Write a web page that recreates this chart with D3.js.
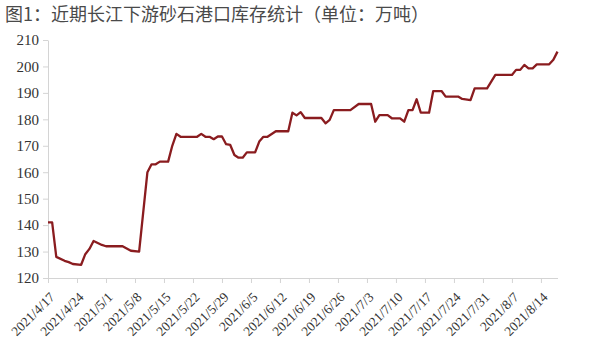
<!DOCTYPE html>
<html lang="zh">
<head>
<meta charset="UTF-8">
<title>长江下游砂石港口库存</title>
<script src="https://d3js.org/d3.v7.min.js"></script>
<style>
  body { margin: 0; background: #fff; }
  .title { font-family: "Noto Sans CJK SC", sans-serif; font-size: 18px; fill: #4a4a4a; }
  .axis text { font-family: "Liberation Serif", serif; fill: #333; }
  .axis path, .axis line { stroke: #d4d4d4; }
</style>
</head>
<body>
<div id="chart"></div>
<script>
// inventory (10k tonnes) at the corners of the line
var dates = ["2021/4/17","2021/4/18","2021/4/19","2021/4/21","2021/4/22","2021/4/23","2021/4/25",
  "2021/4/26","2021/4/27","2021/4/28","2021/4/30","2021/5/1","2021/5/5","2021/5/7","2021/5/9",
  "2021/5/11","2021/5/12","2021/5/13","2021/5/14","2021/5/16","2021/5/17","2021/5/18","2021/5/19",
  "2021/5/23","2021/5/24","2021/5/25","2021/5/26","2021/5/27","2021/5/28","2021/5/29","2021/5/30",
  "2021/5/31","2021/6/1","2021/6/2","2021/6/3","2021/6/4","2021/6/6","2021/6/7","2021/6/8",
  "2021/6/9","2021/6/11","2021/6/14","2021/6/15","2021/6/16","2021/6/17","2021/6/18","2021/6/22",
  "2021/6/23","2021/6/24","2021/6/25","2021/6/29","2021/7/1","2021/7/4","2021/7/5","2021/7/6",
  "2021/7/8","2021/7/9","2021/7/11","2021/7/12","2021/7/13","2021/7/14","2021/7/15","2021/7/16",
  "2021/7/18","2021/7/19","2021/7/21","2021/7/22","2021/7/25","2021/7/26","2021/7/28","2021/7/29",
  "2021/8/1","2021/8/3","2021/8/7","2021/8/8","2021/8/9","2021/8/10","2021/8/11","2021/8/12",
  "2021/8/13","2021/8/16","2021/8/17","2021/8/18"];
var stock = [141,141,128,126.5,126,125.3,125,
  129,131,134,132.5,132,132,130.3,130,
  160,163,163,164,164,170,174.5,173.4,
  173.4,174.5,173.4,173.4,172.5,173.5,173.5,170.6,
  170.3,166.5,165.5,165.5,167.5,167.5,171.6,173.4,
  173.4,175.5,175.5,182.5,181.5,182.7,180.5,180.5,
  178.5,179.8,183.5,183.5,185.8,185.8,179.1,181.6,
  181.6,180.4,180.4,179.1,183.5,183.5,187.6,182.5,
  182.5,190.7,190.7,188.6,188.6,187.7,187.3,191.7,
  191.7,196.8,196.8,198.7,198.7,200.6,199.3,199.3,
  200.8,200.8,202.5,205.6];
var weekLabels = ["2021/4/17","2021/4/24","2021/5/1","2021/5/8","2021/5/15","2021/5/22",
  "2021/5/29","2021/6/5","2021/6/12","2021/6/19","2021/6/26","2021/7/3","2021/7/10",
  "2021/7/17","2021/7/24","2021/7/31","2021/8/7","2021/8/14"];
var yTicks = [120,130,140,150,160,170,180,190,200,210];

function toDate(s) {
  var p = s.split("/");
  return new Date(+p[0], +p[1] - 1, +p[2]);
}

var width = 600, height = 344;
var margin = {left: 48, right: 557.5, top: 40, bottom: 278};

var svg = d3.select("#chart").append("svg")
  .attr("width", width)
  .attr("height", height);

svg.append("text")
  .attr("class", "title")
  .attr("x", 5)
  .attr("y", 21)
  .text("图1：近期长江下游砂石港口库存统计（单位：万吨）");

var data = dates.map(function(d, i) { return {date: toDate(d), value: stock[i]}; });

var x = d3.scaleTime()
  .domain([toDate(dates[0]), toDate(dates[dates.length - 1])])
  .range([margin.left, margin.right]);

var y = d3.scaleLinear()
  .domain([120, 210])
  .range([margin.bottom, margin.top]);

// Y axis
var yAxis = svg.append("g")
  .attr("class", "axis")
  .attr("transform", "translate(" + margin.left + ",0)")
  .call(d3.axisLeft(y).tickValues(yTicks).tickSize(5).tickSizeOuter(0).tickPadding(4));
yAxis.selectAll("text").style("font-size", "15px");

// X axis
var fmt = d3.timeFormat("%Y/%-m/%-d");
var xAxis = svg.append("g")
  .attr("class", "axis")
  .attr("transform", "translate(0," + margin.bottom + ")")
  .call(d3.axisBottom(x).tickValues(weekLabels.map(toDate)).tickFormat(fmt)
    .tickSize(5).tickSizeOuter(0));
xAxis.selectAll("text")
  .style("font-size", "13.5px")
  .style("text-anchor", "end")
  .attr("dy", null)
  .attr("y", null)
  .attr("transform", "translate(7,20) rotate(-45)");

// the line
var line = d3.line()
  .x(function(d) { return x(d.date); })
  .y(function(d) { return y(d.value); });

svg.append("path")
  .datum(data)
  .attr("fill", "none")
  .attr("stroke", "#8a1c1f")
  .attr("stroke-width", 2.3)
  .attr("stroke-linejoin", "round")
  .attr("d", line);
</script>
</body>
</html>
